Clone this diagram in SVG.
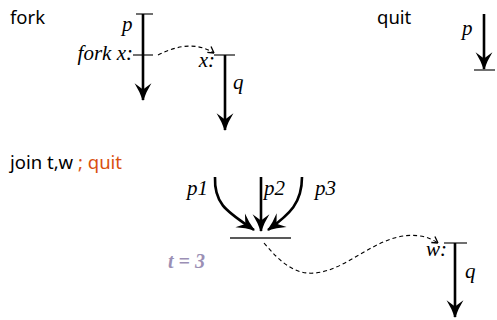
<svg xmlns="http://www.w3.org/2000/svg" width="497" height="320" viewBox="0 0 497 320">
<style>
.lbl{font-family:"Noto Sans","Open Sans","Liberation Sans",sans-serif;font-size:18.5px;fill:#000}
.it{font-family:"Liberation Serif","Times New Roman",serif;font-style:italic;font-size:21px;fill:#000}
.tick{stroke:#222;stroke-width:1.3;fill:none}
.arr{stroke:#000;stroke-width:2.6;fill:none}
.dash{stroke:#000;stroke-width:1.1;fill:none;stroke-dasharray:4,3}
</style>
<defs>
<marker id="ah" markerUnits="userSpaceOnUse" markerWidth="20" markerHeight="20" viewBox="-17 -9 19 18" refX="0" refY="0" orient="auto">
<path d="M1,0 Q-8,-3 -16,-8 L-10,0 L-16,8 Q-8,3 1,0 Z" fill="#000"/>
</marker>
<marker id="sh" markerUnits="userSpaceOnUse" markerWidth="10" markerHeight="10" viewBox="-8 -5 9 10" refX="0" refY="0" orient="auto">
<path d="M0,0 L-6,-4 M0,0 L-6,3" stroke="#000" stroke-width="1.3" fill="none"/>
</marker>
</defs>
<text class="lbl" x="10" y="24">fork</text>
<text class="lbl" x="377" y="24">quit</text>
<text class="lbl" x="10" y="169">join t,w <tspan fill="#d9500f">; quit</tspan></text>

<g id="fork-p">
<line class="tick" x1="136" y1="14" x2="153" y2="14"/>
<line class="tick" x1="133" y1="55" x2="153" y2="55"/>
<text class="it" x="122" y="31">p</text>
<text class="it" x="133" y="60" text-anchor="end">fork x:</text>
</g>
<g id="fork-q">
<line class="tick" x1="214" y1="55" x2="235" y2="55"/>
<text class="it" x="215" y="67" text-anchor="end">x:</text>
<text class="it" x="233" y="89">q</text>
</g>
<g id="quit-p">
<line class="tick" x1="474" y1="70" x2="495" y2="70"/>
<text class="it" x="462" y="35">p</text>
</g>
<g id="join">
<line class="tick" x1="230" y1="238" x2="291" y2="238"/>
<text class="it" x="187" y="195">p1</text>
<text class="it" x="264" y="195">p2</text>
<text class="it" x="315" y="195">p3</text>
<text x="168" y="268" font-family="Liberation Serif,Times New Roman,serif" font-style="italic" font-weight="bold" font-size="20" fill="#9b8fb5">t = 3</text>
</g>
<g id="join-q">
<line class="tick" x1="444" y1="243" x2="467" y2="243"/>
<text class="it" x="447" y="256" text-anchor="end">w:</text>
<text class="it" x="465" y="278">q</text>
</g>

<g id="connectors">
<line class="arr" x1="143" y1="14" x2="143" y2="100" marker-end="url(#ah)"/>
<line class="arr" x1="225" y1="55" x2="225" y2="130" marker-end="url(#ah)"/>
<line class="arr" x1="484" y1="14" x2="484" y2="69" marker-end="url(#ah)"/>
<line class="arr" x1="455" y1="243" x2="455" y2="317" marker-end="url(#ah)"/>
<line class="arr" x1="261" y1="177" x2="261" y2="231" marker-end="url(#ah)"/>
<path class="arr" d="M215,177 C214,205 228,212 254,230" marker-end="url(#ah)"/>
<path class="arr" d="M302,177 C302,203 290,214 268,230" marker-end="url(#ah)"/>
<path class="dash" d="M158,55 C180,44 198,43 214,53" marker-end="url(#sh)"/>
<path class="dash" d="M264,243 C280,262 295,275 315,273 C350,270 380,230 420,236 C428,237 433,240 438,243" marker-end="url(#sh)"/>
</g>
</svg>
